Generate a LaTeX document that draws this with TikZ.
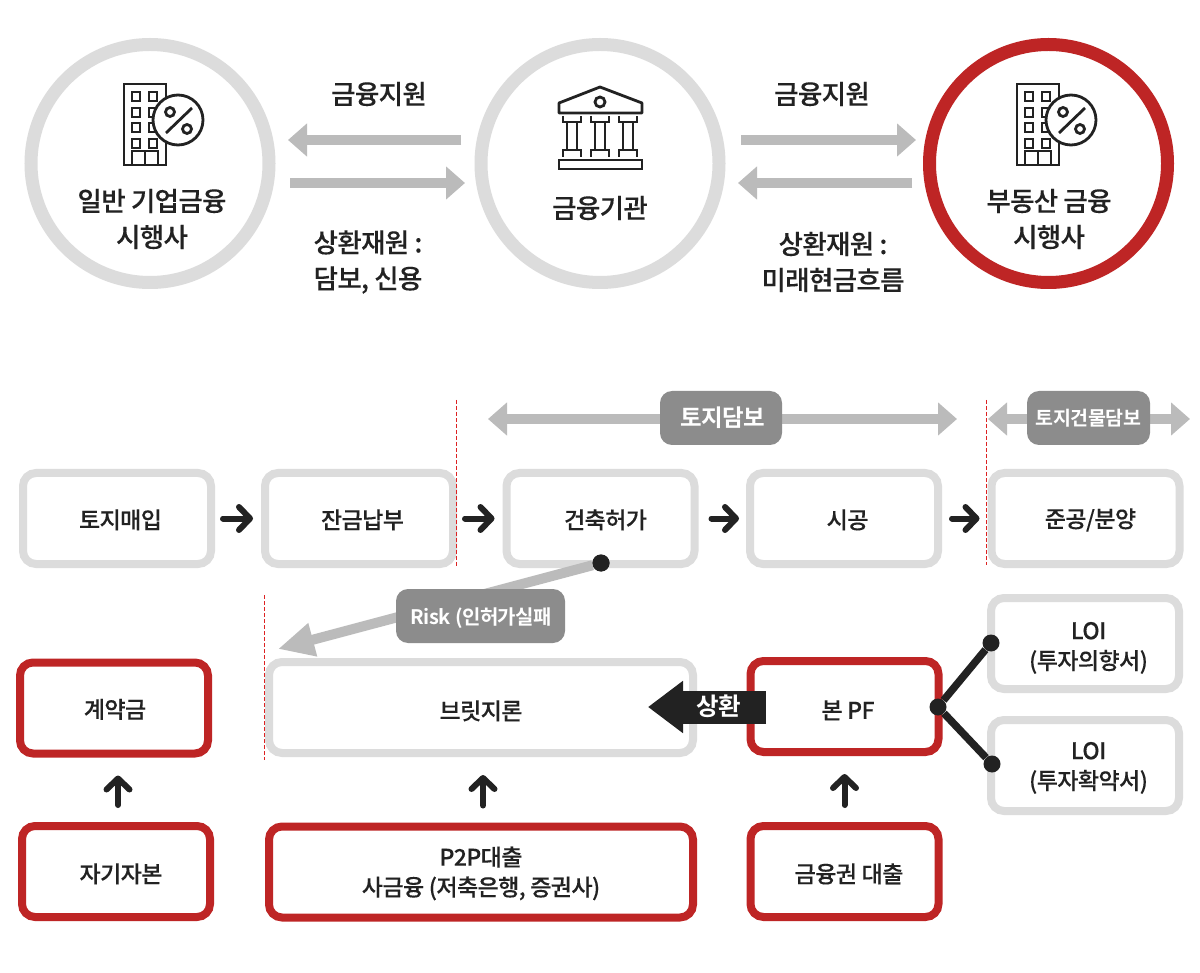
\documentclass[tikz,border=0pt]{standalone}
\usepackage{fontspec}
\setmainfont{Noto Sans CJK KR Medium}[LetterSpace=-2.5,FakeBold=0.2,BoldFont={Noto Sans CJK KR Bold},BoldFeatures={FakeBold=0}]
\usepackage{amsmath}
\usepackage{tikz}
\usetikzlibrary{arrows.meta}
\usetikzlibrary{calc}
\definecolor{ink}{HTML}{222222}
\definecolor{ringgray}{HTML}{DCDCDC}
\definecolor{arrowgray}{HTML}{BBBBBB}
\definecolor{pillgray}{HTML}{8C8C8C}
\definecolor{finred}{HTML}{BE2525}
\definecolor{cutred}{HTML}{DD2222}
\newcommand{\nudge}{\hspace*{7pt}}
\newcommand{\sink}[1]{\rule{0pt}{#1pt}}
\tikzset{
  ring/.style={circle,draw=ringgray,line width=13pt,minimum size=238pt,inner sep=0pt},
  redring/.style={ring,draw=finred},
  bigtxt/.style={text=ink,align=center,font=\fontsize{26.5}{36}\selectfont},
  graybox/.style={draw=ringgray,line width=8pt,rounded corners=13pt,minimum width=188pt,minimum height=91pt,inner sep=0pt,text=ink,align=center,font=\fontsize{23}{30}\selectfont},
  redbox/.style={graybox,draw=finred},
  pill/.style={fill=pillgray,rounded corners=12pt,minimum height=54pt,inner sep=0pt,text=white,font=\bfseries\fontsize{23.5}{30}\selectfont},
  fat/.style={draw=arrowgray,line width=10pt},
  fatto/.style={fat,-{Triangle[length=19pt,width=32pt]}},
  fatboth/.style={fat,{Triangle[length=19pt,width=32pt]}-{Triangle[length=19pt,width=32pt]}},
  flow/.style={draw=ink,line width=6pt,line cap=round,-{Straight Barb[length=11pt,width=23pt,line width=6pt,round]}},
  cut/.style={draw=cutred,line width=1pt,dash pattern=on 4pt off 2pt},
  dot/.style={circle,fill=ink,inner sep=0pt,minimum size=17pt},
  iconline/.style={draw=ink,line width=2.8pt},
  pics/tower/.style={code={
    \draw[iconline] (0,0) rectangle (42,81);
    \foreach \wy in {8,24,39,55} {
      \draw[iconline] (8,\wy) rectangle +(8,9);
      \draw[iconline] (25,\wy) rectangle +(8,9);
    }
    \draw[iconline] (8,81) -- (8,67) -- (34,67) -- (34,81) (21,67) -- (21,81);
    \draw[iconline,fill=white] (54,36) circle (25);
    \draw[iconline] (42,49) -- (68,24);
    \draw[iconline] (46,28) circle (4.5) (63,45) circle (4.5);
  }},
  pics/temple/.style={code={
    \draw[iconline,line join=round] (0,16) -- (41,0) -- (83,16) -- (83,26) -- (0,26) -- cycle;
    \draw[iconline] (41,15) circle (5);
    \foreach \cx in {13,41,69} {
      \draw[iconline] (\cx-9,29) -- (\cx-9,35) -- (\cx+9,35) -- (\cx+9,29);
      \draw[iconline] (\cx-9,70) -- (\cx-9,63) -- (\cx+9,63) -- (\cx+9,70);
      \draw[iconline] (\cx-5,35) -- (\cx-5,63) (\cx+5,35) -- (\cx+5,63);
    }
    \draw[iconline] (0,73) rectangle (83,82);
  }}
}
\begin{document}
\begin{tikzpicture}[x=1pt,y=-1pt]
  \useasboundingbox[fill=white] (0,0) rectangle (1200,973);
  % upper part
  \node[ring] (corp) at (150,163.5) {};
  \node[ring] (bank) at (600,163.5) {};
  \node[redring] (pf) at (1048.5,163.5) {};
  \pic at (124,84) {tower};
  \pic at (559,87) {temple};
  \pic at (1017,84) {tower};
  \node[bigtxt] (corptxt) at (152,219) {일반 기업금융\\시행사};
  \node[bigtxt] (banktxt) at (600,208) {금융기관};
  \node[bigtxt] (pftxt) at (1049,219) {부동산 금융\\시행사};
  \node[bigtxt] (sup1) at (379,94) {금융지원};
  \node[bigtxt] (sup2) at (822,94) {금융지원};
  \node[bigtxt] (rep1) at (368,262) {상환재원 :\\담보, 신용};
  \node[bigtxt] (rep2) at (833,262) {상환재원 :\\미래현금흐름};
  \coordinate (a1) at (461,140);
  \coordinate (a2) at (288,140);
  \coordinate (b1) at (290,183);
  \coordinate (b2) at (465,183);
  \coordinate (c1) at (741,140);
  \coordinate (c2) at (916,140);
  \coordinate (d1) at (912,183);
  \coordinate (d2) at (738,183);
  \draw[fatto] (a1) -- (a2);
  \draw[fatto] (b1) -- (b2);
  \draw[fatto] (c1) -- (c2);
  \draw[fatto] (d1) -- (d2);
  % process row
  \node[graybox] (land) at (117,518.5) {\sink{22}\nudge 토지매입};
  \node[graybox] (pay) at (359,518.5) {\sink{22}\nudge 잔금납부};
  \node[graybox] (permit) at (600.5,518.5) {\sink{22}\hspace*{10pt}건축허가};
  \node[graybox] (build) at (844,518.5) {\sink{22}\nudge 시공};
  \node[graybox] (sale) at (1085.5,518.5) {\sink{22}\hspace*{10pt}준공/분양};
  \foreach \from/\to/\gapa/\gapb in {land/pay/8/8,pay/permit/8/8,permit/build/13/7,build/sale/10/8}
    \draw[flow,shorten <=\gapa pt,shorten >=\gapb pt] (\from) -- (\to);
  % collateral spans
  \coordinate (e1) at (488,419);
  \coordinate (e2) at (957,419);
  \coordinate (f1) at (988,419);
  \coordinate (f2) at (1190,419);
  \draw[fatboth] (e1) -- (e2);
  \draw[fatboth] (f1) -- (f2);
  \node[pill,minimum width=122pt] (landtag) at (721,418) {\hspace*{4pt}토지담보};
  \node[pill,minimum width=123pt,font=\bfseries\fontsize{19.5}{30}\selectfont] (alltag) at (1088.5,418) {토지건물담보};
  % dashed cuts
  \coordinate (g1) at (456.5,400);
  \coordinate (g2) at (456.5,566);
  \coordinate (h1) at (986.5,400);
  \coordinate (h2) at (986.5,565);
  \coordinate (i1) at (264.5,595);
  \coordinate (i2) at (264.5,760);
  \draw[cut] (g1) -- (g2);
  \draw[cut] (h1) -- (h2);
  \draw[cut] (i1) -- (i2);
  % financing rows
  \node[redbox] (deposit) at (114,708) {\sink{22}\hspace*{2pt}계약금};
  \node[graybox,minimum width=424pt] (bridge) at (481,707.5) {\sink{26}브릿지론};
  \node[redbox] (mainpf) at (844.5,706.5) {\sink{26}\nudge 본 PF};
  \node[graybox] (loia) at (1085,643.5) {\sink{26}\nudge LOI\\\nudge (투자의향서)};
  \node[graybox] (loib) at (1085,765.5) {\sink{22}\nudge LOI\\\nudge (투자확약서)};
  \node[redbox] (equity) at (116,871.5) {\sink{24}\hspace*{10pt}자기자본};
  \node[redbox,minimum width=424pt] (p2p) at (481,872) {\sink{22}P2P대출\\사금융 (저축은행, 증권사)};
  \node[redbox] (loan) at (844.5,871.5) {\sink{24}\hspace*{9pt}금융권 대출};
  \draw[flow,shorten <=17pt,shorten >=18pt] ([xshift=2pt]equity.north) -- ([xshift=4pt]deposit.south);
  \draw[flow,shorten <=17pt,shorten >=18pt] ([xshift=2pt]p2p.north) -- ([xshift=2pt]bridge.south);
  \draw[flow,shorten <=17pt,shorten >=18pt] (loan) -- (mainpf);
  % risk
  \node[dot] (riskdot) at (601,563) {};
  \coordinate (risktip) at (278,649);
  \draw[draw=arrowgray,line width=10pt,-{Triangle[length=36pt,width=32pt]}] (riskdot) -- (risktip);
  \node[dot] at (601,563) {};
  \node[pill,minimum width=169pt,font=\bfseries\fontsize{20}{30}\selectfont] (risktag) at (480.5,616) {\sink{21}\hspace*{2pt}Risk (인허가실패};
  % repay
  \coordinate (rp1) at (766,707);
  \coordinate (rp2) at (648,707);
  \draw[draw=ink,line width=33pt,-{Triangle[length=35pt,width=50pt]}] (rp1) -- (rp2);
  \node[text=white,font=\bfseries\fontsize{24.5}{30}\selectfont] (rptxt) at (719,706) {상환};
  % letters of intent
  \node[dot,minimum size=17pt] (forkroot) at (938,707) {};
  \node[dot,minimum size=17pt] (forka) at (991,643) {};
  \node[dot,minimum size=17pt] (forkb) at (992,764) {};
  \draw[draw=ink,line width=7.5pt] (forkroot) -- (forka);
  \draw[draw=ink,line width=7.5pt] (forkroot) -- (forkb);
\end{tikzpicture}
\end{document}
